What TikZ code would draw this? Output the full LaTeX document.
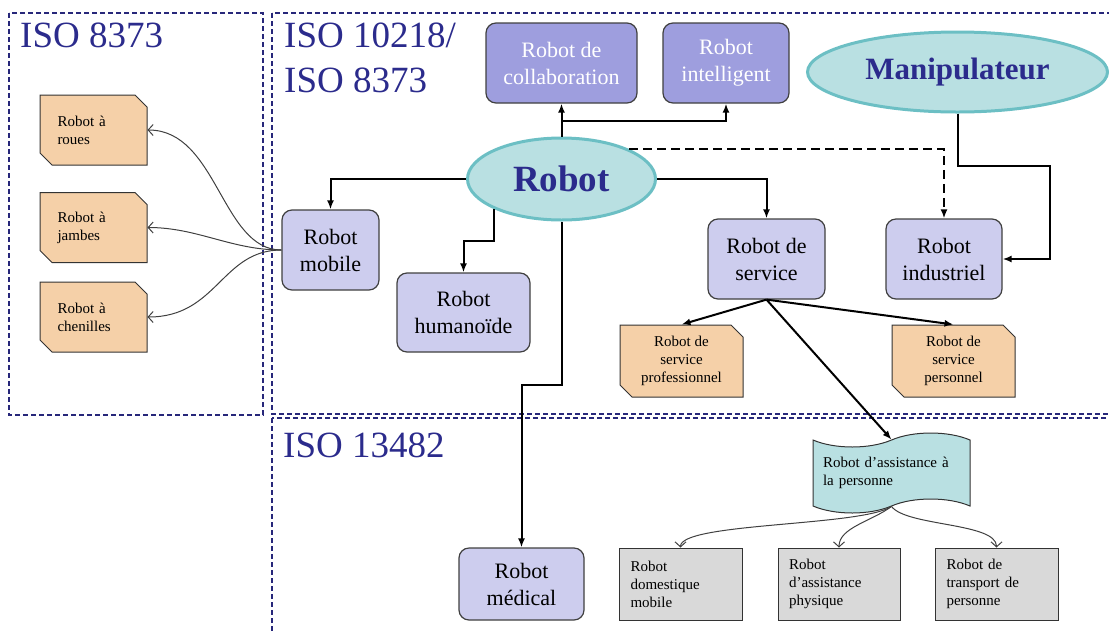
\documentclass[tikz,border=0pt]{standalone}
\usepackage{fontspec}
\setmainfont{Liberation Serif}
\usetikzlibrary{shapes.geometric,shapes.misc,shapes.symbols,arrows.meta,calc}
\definecolor{navy}{HTML}{2B2B8C}
\definecolor{cadrebleu}{HTML}{27277A}
\definecolor{lavande}{HTML}{CDCDEE}
\definecolor{mauve}{HTML}{9E9EDE}
\definecolor{peche}{HTML}{F5D0A8}
\definecolor{turquoise}{HTML}{B9E0E2}
\definecolor{turqbord}{HTML}{6CBFC4}
\definecolor{grisclair}{HTML}{D9D9D9}
\newcommand{\grand}{\fontsize{22}{27}\selectfont}
\newcommand{\petit}{\fontsize{15}{18}\selectfont}

\begin{document}
\begin{tikzpicture}[x=1pt,y=-1pt,%
  cadre/.style={draw=cadrebleu,line width=1.5pt,dash pattern=on 5pt off 3pt},
  titre/.style={text=navy,font=\fontsize{37}{45}\selectfont,inner sep=0pt,anchor=base west,align=left},
  famille/.style={rectangle,draw=black!75,line width=1.2pt,fill=lavande,rounded corners=10pt,
    align=center,font=\grand,inner sep=2pt,minimum height=80pt},
  avance/.style={famille,fill=mauve,text=white},
  racine/.style={ellipse,fill=turquoise,draw=turqbord,line width=3pt,inner sep=0pt,
    text=navy,font=\bfseries\fontsize{37}{40}\selectfont},
  coin/.style={chamfered rectangle,chamfered rectangle corners={north east,south west},
    chamfered rectangle sep=6pt,draw=black!80,line width=1pt,fill=peche,
    font=\petit,inner sep=3pt,minimum width=107pt,minimum height=70pt},
  gauche/.style={coin,align=left,text width=72pt},
  centre/.style={coin,align=center,minimum width=123pt,minimum height=72pt},
  usage/.style={rectangle,draw=black!80,line width=1pt,fill=grisclair,font=\petit,
    align=left,text width=100pt,inner sep=2pt,minimum width=123pt,minimum height=72pt},
  ruban/.style={tape,tape bend top=in and out,tape bend bottom=in and out,tape bend height=14pt,
    draw=black!80,line width=1pt,fill=turquoise,font=\petit,align=left,text width=137pt,
    inner sep=2pt,minimum width=157pt,minimum height=80pt},
  fleche/.style={-{Latex[length=9pt,width=7pt]},line width=2pt},
  tirets/.style={dash pattern=on 9pt off 5pt},
  courbe/.style={-{Straight Barb[length=5pt,width=11pt]},line width=1pt,black!75}]
    \useasboundingbox (0,0) rectangle (1109,633);
    % Cadres des normes
    \draw[cadre] (9,13) rectangle (263,415);
    \draw[cadre] (272,13) rectangle (1115,414);
    \draw[cadre] (272,418) rectangle (1115,640);
    \node[titre] (t8373) at (20,47) {ISO 8373};
    \node[titre] (t10218) at (284,92) {ISO 10218/\\ISO 8373};
    \node[titre] (t13482) at (283,457) {ISO 13482};
    % Familles
    \node[racine,minimum width=188pt,minimum height=82pt] (robot) at (561.5,179) {Robot};
    \node[racine,minimum width=300pt,minimum height=80pt,font=\bfseries\fontsize{31}{34}\selectfont] (manip) at (957.5,72) {Manipulateur};
    \node[avance,minimum width=151pt] (collab) at (561.5,63) {Robot de\\collaboration};
    \node[avance,minimum width=126pt] (intel) at (726,63) {Robot\\intelligent};
    \node[famille,minimum width=97pt] (mobile) at (330.5,250) {Robot\\mobile};
    \node[famille,minimum width=133pt,minimum height=79pt] (human) at (463.5,312.5) {Robot\\humanoïde};
    \node[famille,minimum width=117pt] (service) at (766.5,259) {Robot de\\service};
    \node[famille,minimum width=116pt] (indus) at (944,259) {Robot\\industriel};
    \node[famille,minimum width=125pt,minimum height=72pt] (medical) at (521.5,584) {Robot\\médical};
    % Sous-familles
    \node[gauche] (roues) at (93.5,130) {Robot à\\roues};
    \node[gauche] (jambes) at (93.5,227.5) {Robot à\\jambes};
    \node[gauche] (chenilles) at (93.5,317) {Robot à\\chenilles};
    \node[centre] (pro) at (681.5,361) {Robot de\\service\\professionnel};
    \node[centre] (perso) at (953.5,361) {Robot de\\service\\personnel};
    \node[ruban] (assist) at (891.5,473) {Robot d’assistance à\\la personne};
    \node[usage] (domest) at (680.5,584) {Robot\\domestique\\mobile};
    \node[usage,minimum width=122pt] (physique) at (839,584) {Robot\\d’assistance\\physique};
    \node[usage] (transport) at (996.5,584) {Robot de\\transport de\\personne};
    % Liens
    \draw[fleche] (robot.north) -- (collab.south);
    \draw[fleche] (robot.north) ++(0,-16) -| (intel.south);
    \draw[fleche] (robot.west) -| (mobile.north);
    \draw[fleche] (robot.204) -- ++(0,32) -| (human.north);
    \draw[fleche] (robot.south) -- ++(0,163) -| (medical.north);
    \draw[fleche] (robot.east) -| (service.north);
    \draw[fleche,tirets] (robot.24) -| (indus.north);
    \draw[fleche] (manip.south) -- ++(0,52) -| ($(indus.east)+(47,0)$) -- (indus.east);
    \draw[fleche] (service.south) -- (pro.north);
    \draw[fleche] (service.south) -- (perso.north);
    \draw[fleche] (service.south) -- (assist.north);
    \draw[courbe] (mobile.west) .. controls +(-60,0) and +(70,0) .. (roues.east);
    \draw[courbe] (mobile.west) .. controls +(-50,0) and +(50,0) .. (jambes.east);
    \draw[courbe] (mobile.west) .. controls +(-60,0) and +(70,0) .. (chenilles.east);
    \draw[courbe] (assist.south) .. controls +(-30,20) and +(0,-25) .. (domest.north);
    \draw[courbe] (assist.south) .. controls +(-20,15) and +(0,-20) .. (physique.north);
    \draw[courbe] (assist.south) .. controls +(15,20) and +(0,-25) .. (transport.north);
\end{tikzpicture}
\end{document}
